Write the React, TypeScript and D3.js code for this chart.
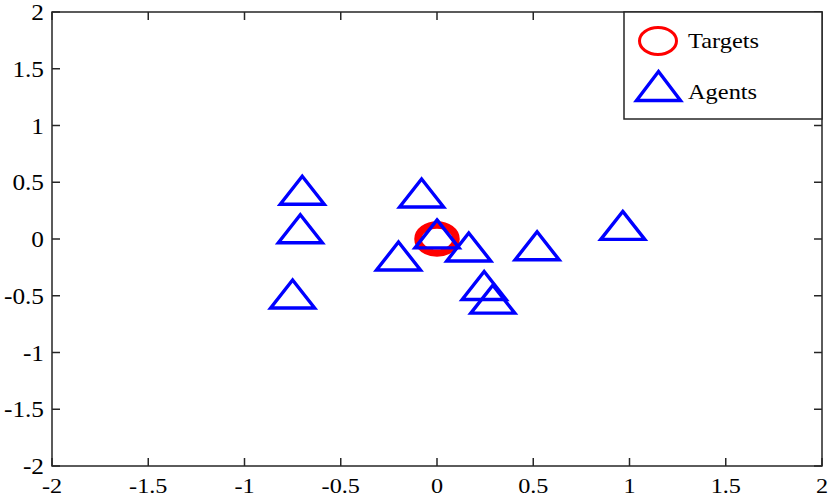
import { useEffect, useRef } from 'react';
import * as d3 from 'd3';

// 목표 / 에이전트 위치
const targetX = [0];
const targetY = [0];
const agentX = [-0.70, -0.71, -0.75, -0.08, 0.0, -0.20, 0.165, 0.52, 0.965, 0.245, 0.29];
const agentY = [0.43, 0.09, -0.485, 0.405, 0.045, -0.15, -0.07, -0.06, 0.12, -0.41, -0.53];
const tickVals = [-2, -1.5, -1, -0.5, 0, 0.5, 1, 1.5, 2];
const legendLabels = ['Targets', 'Agents'];

const FONT = '"Liberation Serif", "Times New Roman", serif';
const AXIS = '#262626';

export default function App() {
  const svgRef = useRef<SVGSVGElement | null>(null);

  useEffect(() => {
    if (!svgRef.current) return;
    const W = 830, H = 498;
    const m = { top: 12, right: 8, bottom: 32, left: 52 };
    const svg = d3.select(svgRef.current);
    svg.selectAll('*').remove();
    svg.attr('width', W).attr('height', H);

    const x = d3.scaleLinear().domain([-2, 2]).range([m.left, W - m.right]);
    const y = d3.scaleLinear().domain([-2, 2]).range([H - m.bottom, m.top]);
    const tickLen = 8;

    // 박스
    svg.append('rect')
      .attr('x', x(-2)).attr('y', y(2))
      .attr('width', x(2) - x(-2)).attr('height', y(-2) - y(2))
      .attr('fill', 'none').attr('stroke', AXIS).attr('stroke-width', 1.5);

    const ticks = svg.append('g').attr('stroke', AXIS).attr('stroke-width', 1.5);
    tickVals.forEach((t) => {
      ticks.append('line').attr('x1', x(t)).attr('x2', x(t)).attr('y1', y(-2)).attr('y2', y(-2) - tickLen);
      ticks.append('line').attr('x1', x(t)).attr('x2', x(t)).attr('y1', y(2)).attr('y2', y(2) + tickLen);
      ticks.append('line').attr('y1', y(t)).attr('y2', y(t)).attr('x1', x(-2)).attr('x2', x(-2) + tickLen);
      ticks.append('line').attr('y1', y(t)).attr('y2', y(t)).attr('x1', x(2)).attr('x2', x(2) - tickLen);
    });

    // 눈금 레이블
    svg.selectAll('text.xl')
      .data(tickVals)
      .join('text')
      .attr('class', 'xl')
      .attr('transform', (d) => `translate(${x(d)},${H - 5}) scale(1.1,1)`)
      .attr('text-anchor', 'middle')
      .attr('font-family', FONT)
      .attr('font-size', 22)
      .attr('fill', '#000')
      .text((d) => String(d));

    svg.selectAll('text.yl')
      .data(tickVals)
      .join('text')
      .attr('class', 'yl')
      .attr('transform', (d) => `translate(${x(-2) - 8},${y(d) + 8}) scale(1.1,1)`)
      .attr('text-anchor', 'end')
      .attr('font-family', FONT)
      .attr('font-size', 23)
      .attr('fill', '#000')
      .text((d) => String(d));

    const tri = (cx: number, cy: number, w: number, h: number) =>
      `M${cx},${cy - h / 2}L${cx + w / 2},${cy + h / 2}L${cx - w / 2},${cy + h / 2}Z`;

    // 목표
    svg.selectAll('ellipse.t')
      .data(targetX.map((v, i) => [v, targetY[i]]))
      .join('ellipse')
      .attr('class', 't')
      .attr('cx', (d) => x(d[0]))
      .attr('cy', (d) => y(d[1]))
      .attr('rx', 19).attr('ry', 14)
      .attr('fill', 'none').attr('stroke', '#ff0000').attr('stroke-width', 7.5);

    // 에이전트
    svg.selectAll('path.a')
      .data(agentX.map((v, i) => [v, agentY[i]]))
      .join('path')
      .attr('class', 'a')
      .attr('d', (d) => tri(x(d[0]), y(d[1]), 44, 28))
      .attr('fill', 'none').attr('stroke', '#0000ff').attr('stroke-width', 3.4)
      .attr('stroke-linejoin', 'miter');

    // 범례
    const lx = 624, ly = y(2), lw = x(2) - lx, lh = 107;
    const lg = svg.append('g');
    lg.append('rect').attr('x', lx).attr('y', ly).attr('width', lw).attr('height', lh)
      .attr('fill', '#fff').attr('stroke', AXIS).attr('stroke-width', 1.5);
    lg.append('ellipse').attr('cx', 658).attr('cy', 41).attr('rx', 18.5).attr('ry', 13.5)
      .attr('fill', 'none').attr('stroke', '#ff0000').attr('stroke-width', 3);
    lg.append('path').attr('d', tri(658.5, 86, 44, 29))
      .attr('fill', 'none').attr('stroke', '#0000ff').attr('stroke-width', 3.4);
    lg.selectAll('text')
      .data(legendLabels)
      .join('text')
      .attr('transform', (_, i) => `translate(688,${48 + i * 51}) scale(1.22,1)`)
      .attr('font-family', FONT)
      .attr('font-size', 20)
      .attr('fill', '#000')
      .text((d) => d);
  }, []);

  return (
    <svg ref={svgRef} style={{ position: 'absolute', left: 0, top: 0, background: '#fff' }} />
  );
}
